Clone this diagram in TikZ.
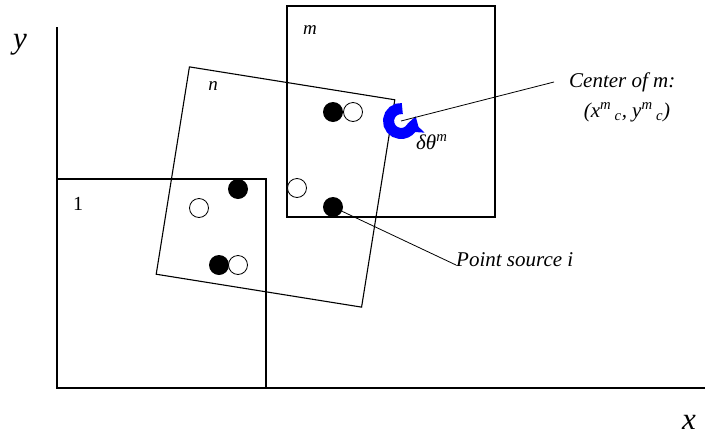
\documentclass[tikz,border=0pt]{standalone}
\usepackage{fontspec}
\setmainfont{Liberation Serif}
\usetikzlibrary{arrows.meta,positioning}

\begin{document}
\begin{tikzpicture}[x=1pt,y=-1pt,
  cell/.style={draw,line width=1.1pt,inner sep=0pt},
  src/.style={circle,fill=black,minimum size=20pt,inner sep=0pt},
  img/.style={circle,draw,fill=white,line width=0.8pt,minimum size=19pt,inner sep=0pt},
  lbl/.style={font=\fontsize{21}{25}\selectfont\itshape,inner sep=0pt},
  axlbl/.style={font=\fontsize{31}{35}\selectfont\itshape,inner sep=0pt}]
\useasboundingbox (0,0) rectangle (705,437);
% axes
\coordinate (o) at (57,388);
\draw [line width=1.4pt] (57,27) -- (o) -- (705,388);
\node [axlbl] (ylbl) at (20,45) {y};
\node [axlbl] (xlbl) at (689,422) {x};
% cells 1, n, m
\node [cell,minimum width=209pt,minimum height=209pt] (cell1) at (161.5,283.5) {};
\node [cell,minimum width=208pt,minimum height=210pt,rotate=-9.1] (celln) at (275.5,187) {};
\node [cell,minimum width=208pt,minimum height=211pt] (cellm) at (391,111.5) {};
\node [lbl,font=\fontsize{20}{24}\selectfont] (num1) at (78,204) {1};
\node [lbl,font=\fontsize{19}{22}\selectfont\itshape] (numn) at (213,86) {n};
\node [lbl,font=\fontsize{19}{22}\selectfont\itshape] (numm) at (310,30) {m};
% point sources and their images
\node [src] (s1) at (333,112) {};
\node [img] (w1) at (353,112) {};
\node [img] (w2) at (297,188) {};
\node [src] (s2) at (333,207) {};
\node [src] (s3) at (238,189) {};
\node [img] (w3) at (199,208) {};
\node [src] (s4) at (219,265) {};
\node [img] (w4) at (238,265) {};
% rotation of m about its center
\coordinate (ctr) at (401,121);
\draw [blue,line width=11pt,-{Triangle[width=23pt,length=10pt]}]
  (ctr) ++(84:12.5pt) arc [start angle=84,end angle=356,radius=12.5pt];
\node [lbl,anchor=west] (dth) at (416,142) {δθ\textsuperscript{m}};
% callouts
\node [lbl,anchor=west] (ctrlbl) at (569,82) {Center of m:};
\node [lbl] (ctrxy) at (627,112) {(x\textsuperscript{m}\,\textsubscript{c}, y\textsuperscript{m}\,\textsubscript{c})};
\draw [line width=0.8pt] (ctr) -- ([xshift=-15pt]ctrlbl.west);
\node [lbl,anchor=west] (ptlbl) at (456,260) {Point source i};
\draw [line width=0.8pt] (s2) -- ([yshift=-5pt]ptlbl.west);
\end{tikzpicture}
\end{document}
